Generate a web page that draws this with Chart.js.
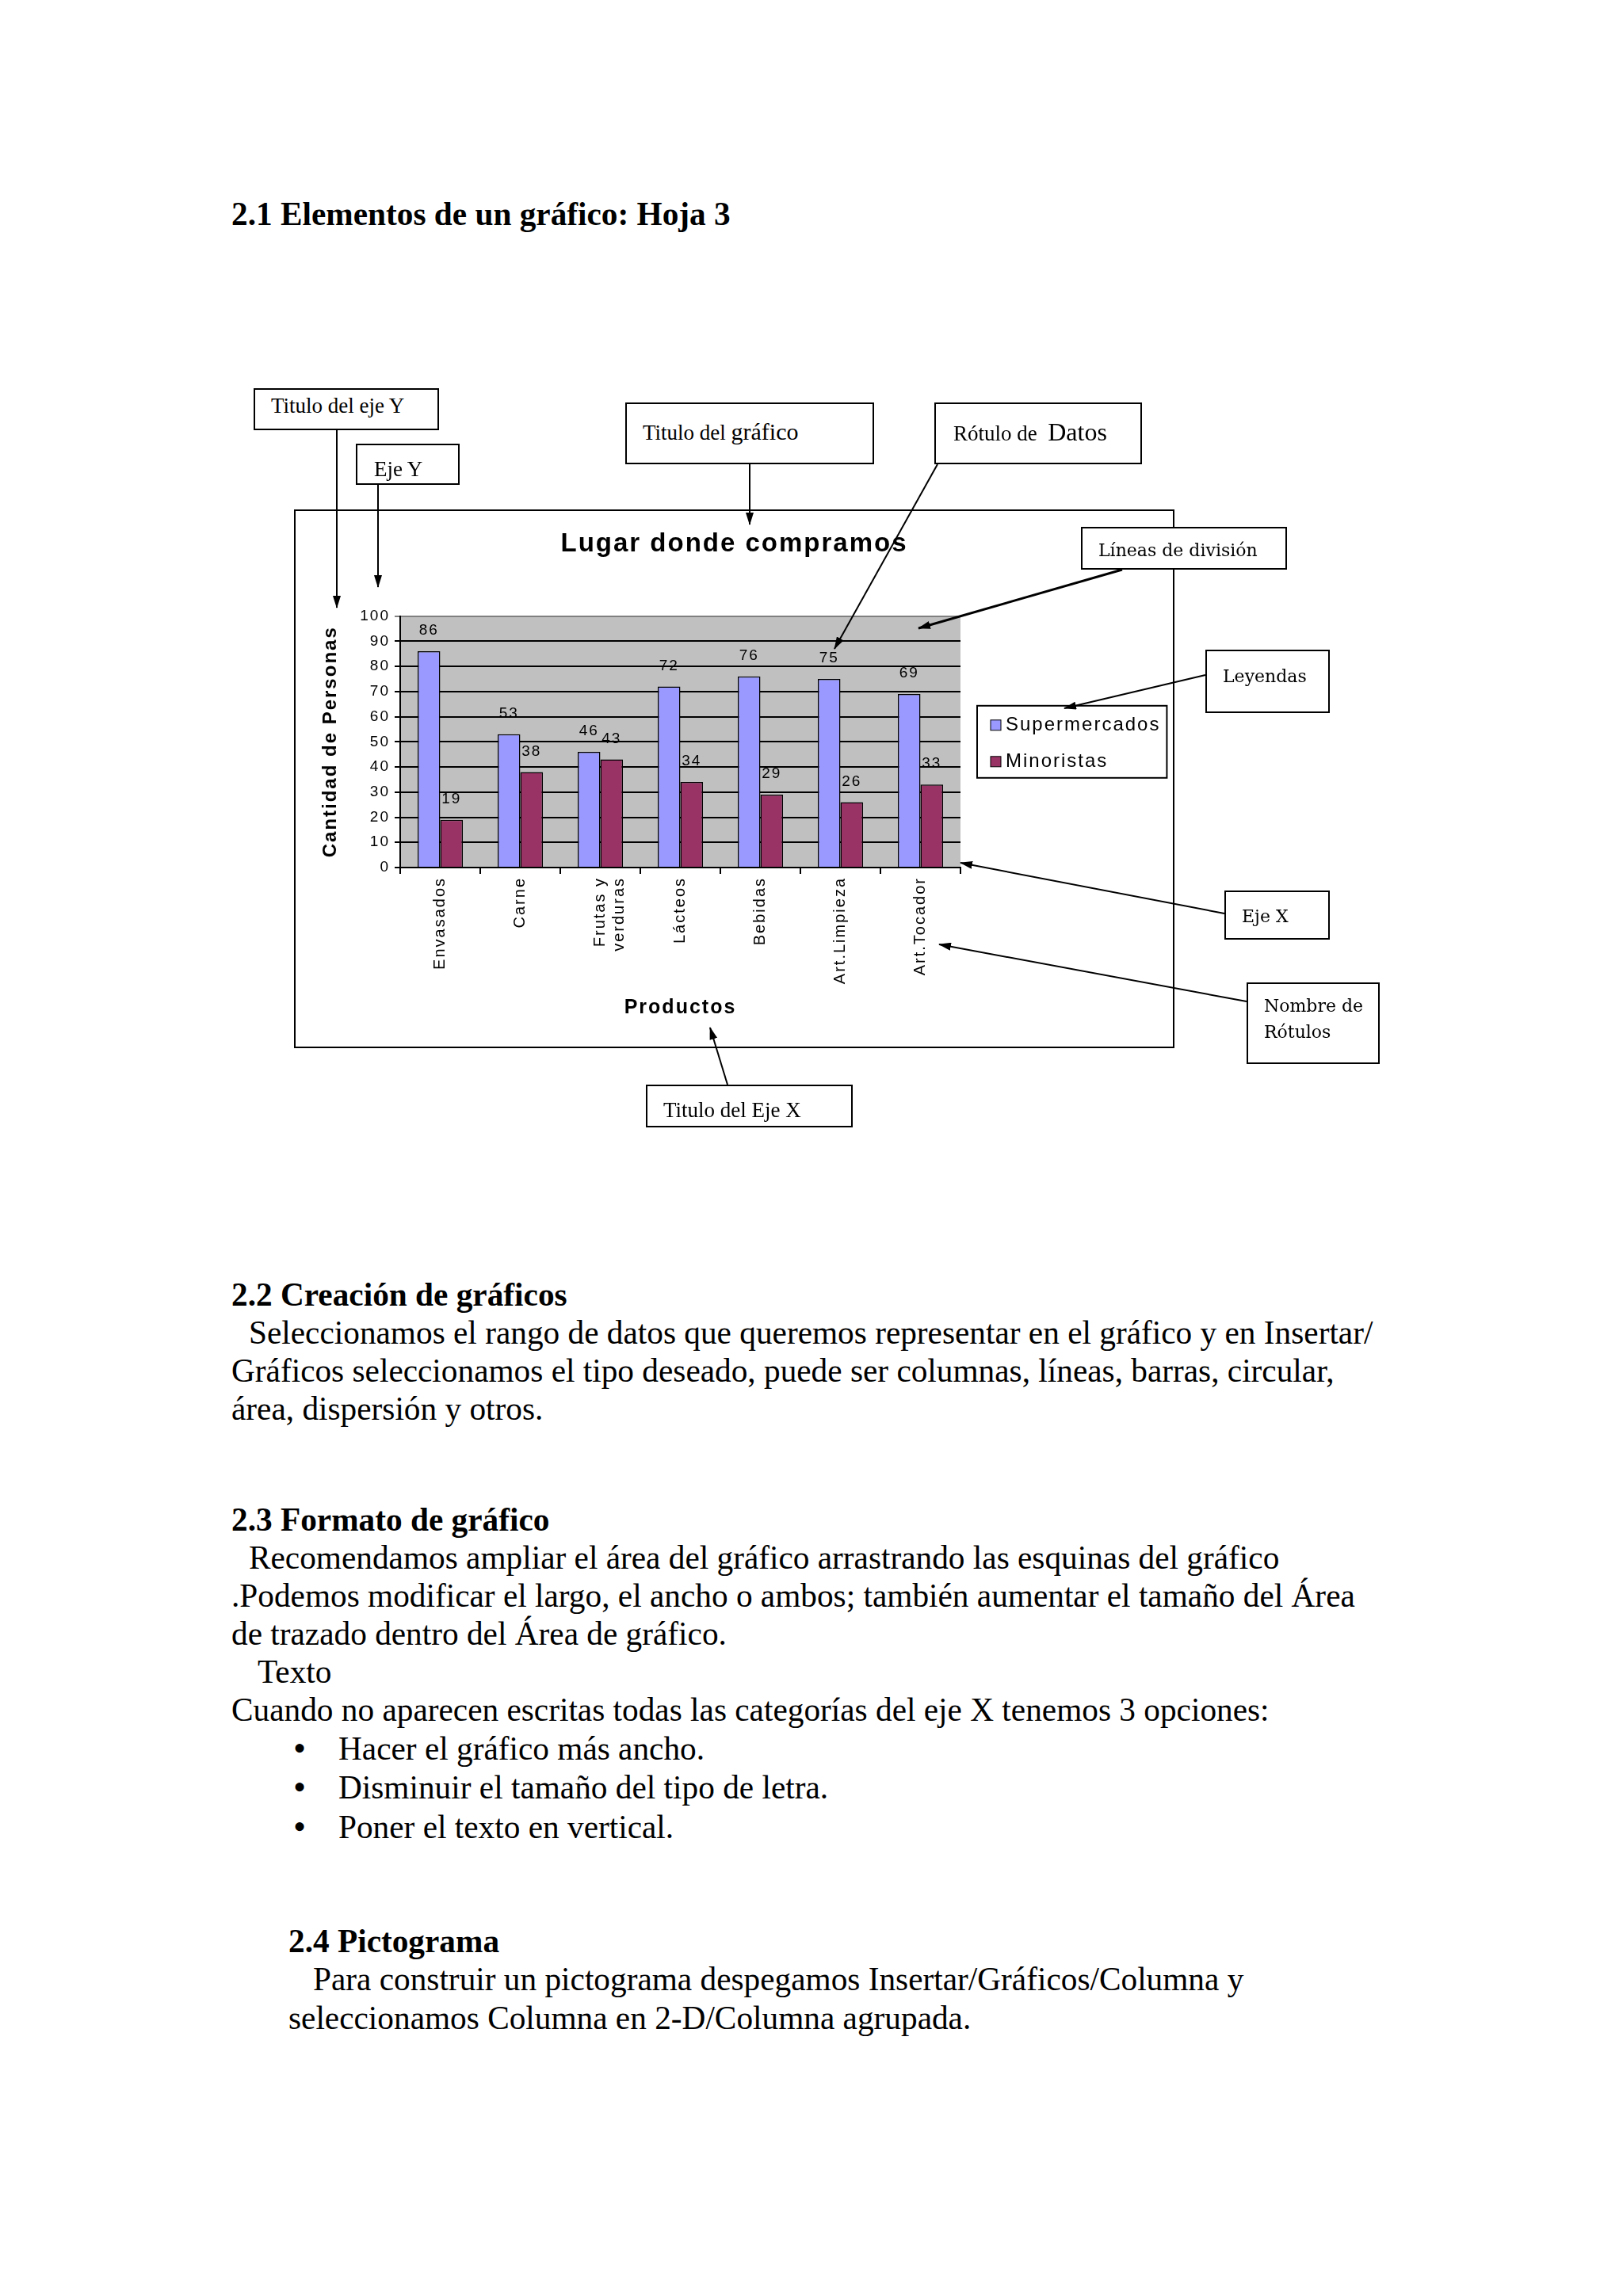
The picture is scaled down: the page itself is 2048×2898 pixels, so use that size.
<!DOCTYPE html>
<html lang="es">
<head>
<meta charset="utf-8">
<title>Elementos de un gráfico</title>
<script src="https://cdn.jsdelivr.net/npm/chart.js@4.4.1/dist/chart.umd.min.js"></script>
<style>
  html, body { margin: 0; padding: 0; background: #fff; }
  #page { position: relative; width: 2048px; height: 2898px; overflow: hidden; color: #000;
          font-family: "Liberation Serif", "Times New Roman", serif; }
  .linea { position: absolute; font-size: 41.3px; line-height: 48px; white-space: nowrap; }
  .linea.h { font-weight: bold; }
  .linea.b { font-size: 46px; }
  #chartBox { position: absolute; left: 371px; top: 643px; width: 1111px; height: 680px; }
  #chartBox canvas { position: absolute; left: 0; top: 0; }
  #marco { position: absolute; left: 371px; top: 643px; width: 1111px; height: 680px;
           border: 2px solid #000; box-sizing: border-box; }
  #flechas { position: absolute; left: 0; top: 0; }
  .nota { position: absolute; background: #fff; border: 2px solid #000; box-sizing: border-box; }
  .nota span { position: absolute; white-space: nowrap; line-height: 1; transform: translateY(-50%); }
  .serif1 { font-family: "Liberation Serif", serif; font-size: 27px; }
  .serif2 { font-family: "DejaVu Serif", serif; font-size: 22px; }
</style>
</head>
<body>
<div id="page">
  <div id="textos"></div>
  <div id="chartBox"><canvas id="grafico" width="1111" height="680"></canvas></div>
  <div id="marco"></div>
  <svg id="flechas" width="2048" height="2898">
    <defs>
      <marker id="punta" markerWidth="16" markerHeight="10" refX="15" refY="5" orient="auto" markerUnits="userSpaceOnUse">
        <path d="M0,0 L16,5 L0,10 z" fill="#000"/>
      </marker>
    </defs>
  </svg>
  <div id="notas"></div>
</div>
<script>
// datos del gráfico
const categorias = ['Envasados', 'Carne', ['Frutas y', 'verduras'], 'Lácteos', 'Bebidas', 'Art.Limpieza', 'Art.Tocador'];
const supermercados = [86, 53, 46, 72, 76, 75, 69];
const minoristas = [19, 38, 43, 34, 29, 26, 33];
const series = ['Supermercados', 'Minoristas'];
const ejeYMin = 0;
const ejeYMax = 100;
const ejeYPaso = 10;

const sans = '"Liberation Sans", Arial, sans-serif';

// texto del documento
const lineas = [
  [292, 270, '2.1 Elementos de un gráfico: Hoja 3', 'h'],
  [292, 1634, '2.2 Creación de gráficos', 'h'],
  [314, 1682, 'Seleccionamos el rango de datos que queremos representar en el gráfico y en Insertar/'],
  [292, 1730, 'Gráficos seleccionamos el tipo deseado, puede ser columnas, líneas, barras, circular,'],
  [292, 1778, 'área, dispersión y otros.'],
  [292, 1918, '2.3 Formato de gráfico', 'h'],
  [314, 1966, 'Recomendamos ampliar el área del gráfico arrastrando las esquinas del gráfico'],
  [292, 2014, '.Podemos modificar el largo, el ancho o ambos; también aumentar el tamaño del Área'],
  [292, 2062, 'de trazado dentro del Área de gráfico.'],
  [325, 2110, 'Texto'],
  [292, 2158, 'Cuando no aparecen escritas todas las categorías del eje X tenemos 3 opciones:'],
  [370, 2207, '•', 'b'], [427, 2207, 'Hacer el gráfico más ancho.'],
  [370, 2256, '•', 'b'], [427, 2256, 'Disminuir el tamaño del tipo de letra.'],
  [370, 2306, '•', 'b'], [427, 2306, 'Poner el texto en vertical.'],
  [364, 2450, '2.4 Pictograma', 'h'],
  [395, 2498, 'Para construir un pictograma despegamos Insertar/Gráficos/Columna y'],
  [364, 2547, 'seleccionamos Columna en 2-D/Columna agrupada.']
];

const textos = document.getElementById('textos');
lineas.forEach(function (l) {
  const d = document.createElement('div');
  d.className = 'linea' + (l[3] ? ' ' + l[3] : '');
  d.style.left = l[0] + 'px';
  d.style.top = (l[1] - 24) + 'px';
  d.textContent = l[2];
  textos.appendChild(d);
});

// cuadros de anotación
const notas = [
  { x: 320, y: 490, w: 234, h: 53, c: 'serif1', t: [[20, 20, 'Titulo del eje Y']] },
  { x: 449, y: 560, w: 131, h: 52, c: 'serif1', t: [[21, 30, 'Eje Y']] },
  { x: 789, y: 508, w: 314, h: 78, c: 'serif1', t: [[20, 35, 'Titulo del <span style="position:static;font-size:30px">gráfico</span>']] },
  { x: 1179, y: 508, w: 262, h: 78, c: 'serif1', t: [[22, 35, 'Rótulo de &nbsp;<span style="position:static;font-size:32px">Datos</span>']] },
  { x: 1364, y: 665, w: 260, h: 54, c: 'serif2', t: [[20, 28, 'Líneas de división']] },
  { x: 1521, y: 820, w: 157, h: 80, c: 'serif2', t: [[20, 32, 'Leyendas']] },
  { x: 1545, y: 1124, w: 133, h: 62, c: 'serif2', t: [[20, 31, 'Eje X']] },
  { x: 1573, y: 1240, w: 168, h: 103, c: 'serif2', t: [[20, 28, 'Nombre de'], [20, 61, 'Rótulos']] },
  { x: 815, y: 1369, w: 261, h: 54, c: 'serif1', t: [[20, 30, 'Titulo del Eje X']] }
];

const capaNotas = document.getElementById('notas');
notas.forEach(function (n) {
  const d = document.createElement('div');
  d.className = 'nota ' + n.c;
  d.style.left = n.x + 'px';
  d.style.top = n.y + 'px';
  d.style.width = n.w + 'px';
  d.style.height = n.h + 'px';
  n.t.forEach(function (t) {
    const s = document.createElement('span');
    s.style.left = t[0] + 'px';
    s.style.top = t[1] + 'px';
    s.innerHTML = t[2];
    d.appendChild(s);
  });
  capaNotas.appendChild(d);
});

const flechas = [
  [425, 543, 425, 767, 2],
  [477, 612, 477, 741, 2],
  [946, 586, 946, 662, 2],
  [1183, 586, 1053, 819, 2],
  [1416, 719, 1159, 793, 3],
  [1521, 852, 1343, 894, 2],
  [1545, 1153, 1212, 1089, 2],
  [1573, 1264, 1185, 1192, 2],
  [918, 1369, 896, 1297, 2]
];
const svg = document.getElementById('flechas');
flechas.forEach(function (f) {
  const l = document.createElementNS('http://www.w3.org/2000/svg', 'line');
  l.setAttribute('x1', f[0]); l.setAttribute('y1', f[1]);
  l.setAttribute('x2', f[2]); l.setAttribute('y2', f[3]);
  l.setAttribute('stroke', '#000');
  l.setAttribute('stroke-width', f[4]);
  l.setAttribute('marker-end', 'url(#punta)');
  svg.appendChild(l);
});

// fondo gris del área de trazado
const fondoGris = {
  id: 'fondoGris',
  beforeDraw(chart) {
    const { ctx, chartArea: a } = chart;
    ctx.letterSpacing = '2px';
    ctx.save();
    ctx.fillStyle = '#c0c0c0';
    ctx.fillRect(a.left, a.top, a.right - a.left, a.bottom - a.top);
    ctx.restore();
  }
};

// rótulos de datos sobre cada barra
const rotulos = {
  id: 'rotulos',
  afterDatasetsDraw(chart) {
    const ctx = chart.ctx;
    ctx.save();
    ctx.font = '19px ' + sans;
    ctx.fillStyle = '#000';
    ctx.textAlign = 'center';
    ctx.textBaseline = 'middle';
    chart.data.datasets.forEach(function (ds, i) {
      chart.getDatasetMeta(i).data.forEach(function (bar, j) {
        ctx.fillText(ds.data[j], bar.x, bar.y - 26);
      });
    });
    ctx.restore();
  }
};

// leyenda con recuadro a la derecha del área de trazado
const leyenda = {
  id: 'leyenda',
  afterDraw(chart) {
    const { ctx, chartArea: a } = chart;
    ctx.save();
    ctx.font = '24px ' + sans;
    const anchos = chart.data.datasets.map(ds => ctx.measureText(ds.label).width);
    const w = 36 + Math.max.apply(null, anchos) + 8;
    const h = 91;
    const x = a.right + 21;
    const y = (a.top + a.bottom) / 2 - h / 2;
    ctx.fillStyle = '#fff';
    ctx.fillRect(x, y, w, h);
    ctx.strokeStyle = '#000';
    ctx.lineWidth = 2;
    ctx.strokeRect(x, y, w, h);
    ctx.textBaseline = 'middle';
    chart.data.datasets.forEach(function (ds, i) {
      const cy = y + 25 + i * 46;
      ctx.fillStyle = ds.backgroundColor;
      ctx.fillRect(x + 17, cy - 7, 13, 13);
      ctx.lineWidth = 1;
      ctx.strokeRect(x + 17, cy - 7, 13, 13);
      ctx.fillStyle = '#000';
      ctx.fillText(ds.label, x + 36, cy);
    });
    ctx.restore();
  }
};

new Chart(document.getElementById('grafico'), {
  type: 'bar',
  data: {
    labels: categorias,
    datasets: [
      { label: series[0], data: supermercados, backgroundColor: '#9999ff', borderColor: '#000', borderWidth: 1.5,
        categoryPercentage: 0.565, barPercentage: 1 },
      { label: series[1], data: minoristas, backgroundColor: '#993366', borderColor: '#000', borderWidth: 1.5,
        categoryPercentage: 0.565, barPercentage: 1 }
    ]
  },
  options: {
    responsive: false,
    animation: false,
    devicePixelRatio: 1,
    layout: { padding: 0 },
    plugins: {
      legend: { display: false },
      tooltip: { enabled: false },
      title: {
        display: true,
        text: 'Lugar donde compramos',
        color: '#000',
        font: { family: sans, size: 33, weight: 'bold' },
        padding: { top: 24, bottom: 71 }
      }
    },
    scales: {
      x: {
        offset: true,
        grid: { drawOnChartArea: false, drawTicks: true, tickLength: 8, color: '#000', lineWidth: 2, offset: true },
        border: { display: true, color: '#000', width: 2 },
        ticks: { color: '#000', font: { family: sans, size: 20 }, maxRotation: 90, minRotation: 90, autoSkip: false, padding: 4 },
        title: { display: true, text: 'Productos', color: '#000', font: { family: sans, size: 25, weight: 'bold' },
                 padding: { top: 0, bottom: 36 } },
        afterFit(s) { s.height = 228; }
      },
      y: {
        min: ejeYMin,
        max: ejeYMax,
        ticks: { stepSize: ejeYPaso, color: '#000', font: { family: sans, size: 19 }, padding: 6 },
        grid: { color: ctx => (ctx.tick && ctx.tick.value === ejeYMax ? '#808080' : '#000'), lineWidth: 2, tickLength: 7 },
        border: { color: '#000', width: 2 },
        title: { display: true, text: 'Cantidad de Personas', color: '#000', font: { family: sans, size: 24, weight: 'bold' },
                 padding: { top: 32, bottom: 0 } },
        afterFit(s) { s.width = 134; }
      },
      // eje vacío a la derecha: reserva el espacio de la leyenda
      hueco: {
        position: 'right',
        display: true,
        grid: { display: false },
        border: { display: false },
        ticks: { display: false },
        afterFit(s) { s.width = 270; }
      }
    }
  },
  plugins: [fondoGris, rotulos, leyenda]
});
</script>
</body>
</html>
